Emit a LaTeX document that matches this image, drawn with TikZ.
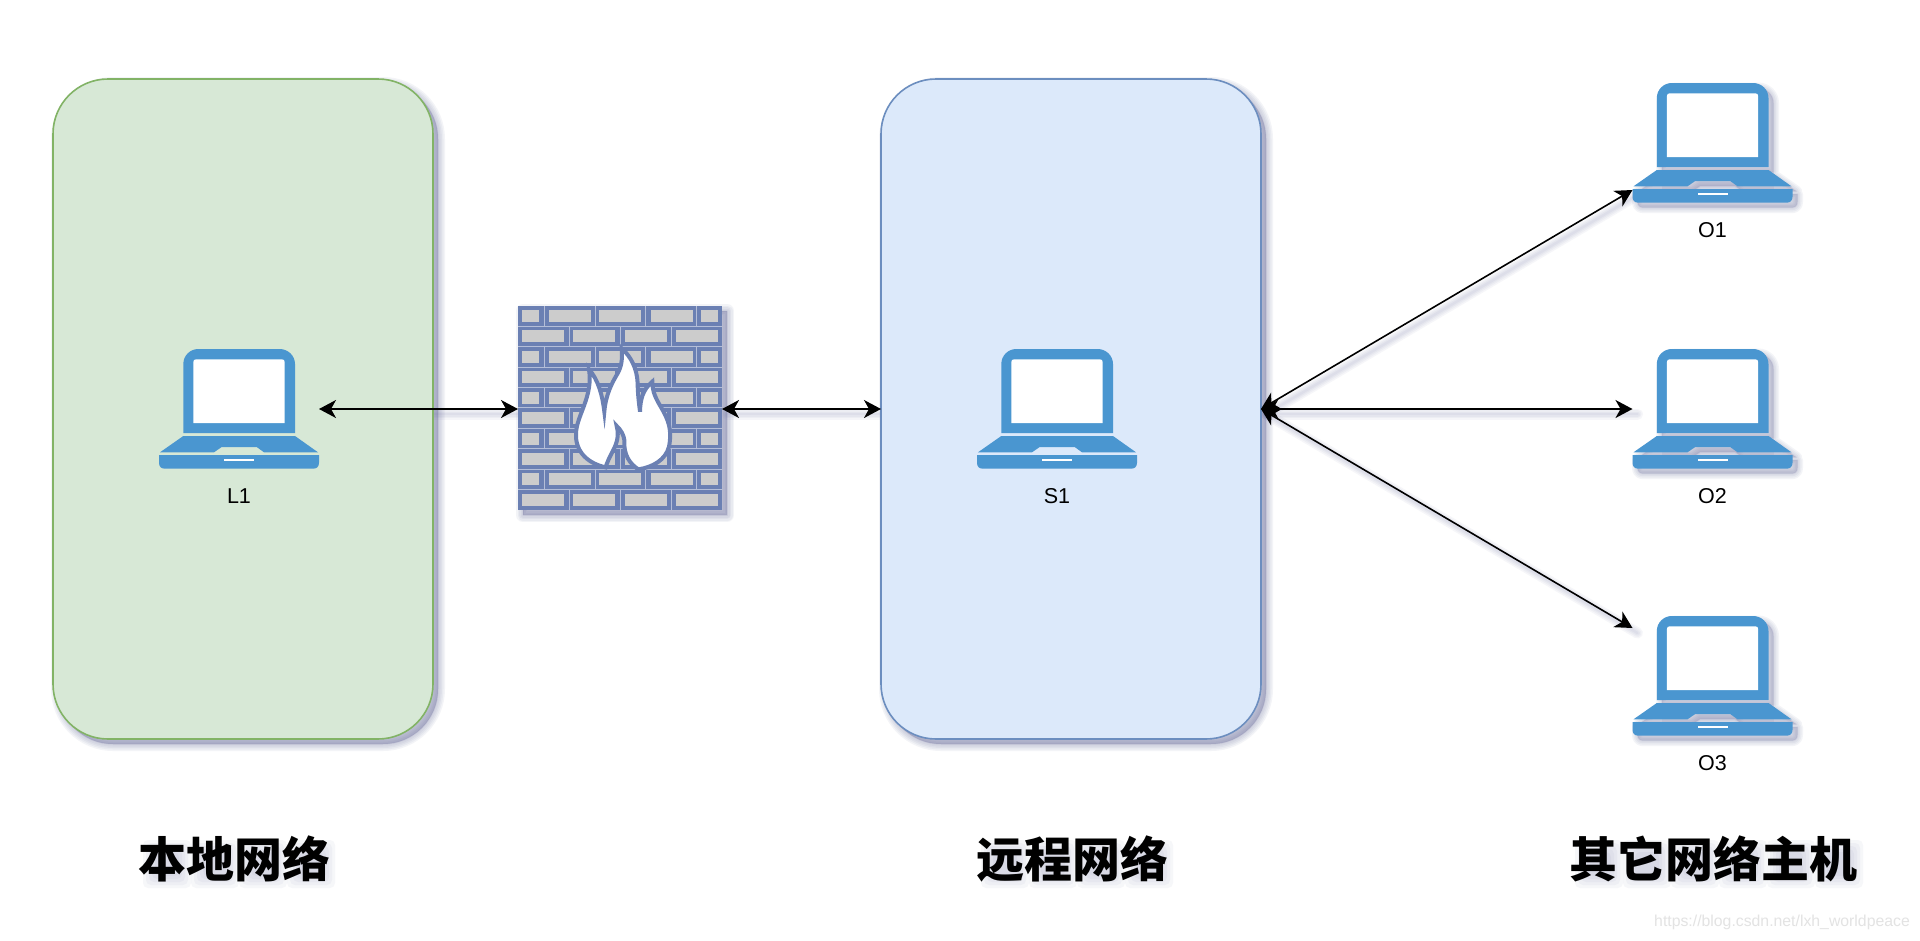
\documentclass[tikz,border=0pt]{standalone}
\usepackage{fontspec}
\setmainfont{Liberation Sans}
\newfontfamily\cjk{Noto Sans CJK SC}
\usetikzlibrary{arrows.meta,calc}
\definecolor{shadecol}{HTML}{6A6E9E}
\definecolor{lapblue}{HTML}{4A96D0}
\definecolor{wallblue}{HTML}{6B80B3}
\definecolor{mortar}{HTML}{B4BED8}
\definecolor{greenfill}{HTML}{D7E8D6}
\definecolor{greenline}{HTML}{82B366}
\definecolor{bluefill}{HTML}{DCE9FA}
\definecolor{blueline}{HTML}{6C8EBF}
\tikzset{
  device/.style={rectangle,minimum width=160pt,minimum height=120pt,inner sep=0pt,outer sep=0pt},
  zone/.style={rectangle,minimum width=380pt,minimum height=660pt,inner sep=0pt,outer sep=0pt},
  zonepath/.style={rounded corners=55pt,line width=1.6pt},
  wallnode/.style={rectangle,minimum width=204pt,minimum height=204pt,inner sep=0pt,outer sep=0pt},
  devlabel/.style={font=\fontsize{21.5pt}{21.5pt}\selectfont,text=black,inner sep=0pt},
  title/.style={font=\cjk\bfseries\fontsize{48pt}{48pt}\selectfont,text=black,inner sep=0pt},
  link/.style={draw=black,line width=1.6pt,{Stealth[length=17pt,width=18pt,inset=5pt]}-{Stealth[length=17pt,width=18pt,inset=5pt]}},
  linkshadow/.style={draw=shadecol,line width=#1,opacity=.06,line cap=round,transform canvas={shift={(5pt,-5pt)}}},
  softsh/.style={fill=shadecol,draw=shadecol,line width=#1,opacity=.075,line join=round},
}
\newcommand\lapoutline{%
  (-55.7,24) -- (-55.7,-45) .. controls (-55.7,-53.3) and (-49,-60) .. (-40.7,-60) -- (40.7,-60) .. controls (49,-60) and (56,-53.3) .. (56,-45) -- (56,24) -- cycle
  (-55.7,27) -- (56,27) -- (79,43.3) -- (25,43.3) -- (17.7,38) -- (-17.3,38) -- (-25,43.3) -- (-79,43.3) -- cycle
  (-80,46) -- (80,46) -- (80,53.7) .. controls (80,57.5) and (78,59.7) .. (74,59.7) -- (-74,59.7) .. controls (-78,59.7) and (-80,57.5) .. (-80,53.7) -- cycle}
\newcommand\lapshadow[2]{%
  \begin{scope}[shift={(#1+5,#2+5)}]
    \foreach \w in {11pt,8pt,5pt,2pt}{\path[softsh=\w] \lapoutline;}
    \fill[shadecol,opacity=.1] (-55.7,24) rectangle (56,46);
  \end{scope}}
\newcommand\laptop[4]{% name, x, y, label
  \begin{scope}[shift={(#2,#3)}]
    \fill[lapblue] \lapoutline;
    \fill[white] (-45.7,14) -- (-45.7,-46.7) .. controls (-45.7,-48.7) and (-44.7,-49.7) .. (-42.7,-49.7) -- (42.7,-49.7) .. controls (44.7,-49.7) and (45.7,-48.7) .. (45.7,-46.7) -- (45.7,14) -- cycle;
    \fill[white] (-14.7,49.7) rectangle (15,52.3);
  \end{scope}
  \node[devlabel] (#1lab) at (#2,#3+87) {#4};
}
\newcommand\softblob[3]{% cx, cy, half-size
  \foreach \d in {0,3,6,9,12}{%
    \fill[shadecol,opacity=.055,rounded corners=5pt] (#1-#3+\d,#2-#3+\d) rectangle (#1+#3-\d,#2+#3-\d);
  }}
\newcommand\connshadow[2]{%
  \foreach \w in {11pt,8pt,5pt,2.5pt}{\draw[linkshadow=\w] (#1) -- (#2);}
}
\begin{document}
\begin{tikzpicture}[x=1pt,y=-1pt]
\useasboundingbox (0,0) rectangle (1920,940);
\fill[white] (0,0) rectangle (1920,940);
% named places
\node[zone] (local) at (243,409) {};
\node[zone] (remote) at (1071,409) {};
\node[device] (L1) at (239,409) {};
\node[device] (S1) at (1057,409) {};
\node[device] (O1) at (1712.5,143) {};
\node[device] (O2) at (1712.5,409) {};
\node[device] (O3) at (1712.5,676) {};
\node[wallnode] (fw) at (620,408) {};
\coordinate (O1in) at ([yshift=-47pt]O1.west);
\coordinate (O3in) at ([yshift=48pt]O3.west);
\coordinate (fwL) at (fw.west |- L1.east);
\coordinate (fwR) at (fw.east |- remote.west);
% connector shadows lie behind everything
\connshadow{L1.east}{fwL}
\connshadow{fwR}{remote.west}
\connshadow{remote.east}{O1in}
\connshadow{remote.east}{O2.west}
\connshadow{remote.east}{O3in}
% zones
\foreach \w in {14pt,11pt,8pt,5pt,2pt,.5pt}{
  \path[softsh=\w,rounded corners=55pt] (local.north west) ++(5,5) rectangle ([xshift=5pt,yshift=-5pt]local.south east);
  \path[softsh=\w,rounded corners=55pt] (remote.north west) ++(5,5) rectangle ([xshift=5pt,yshift=-5pt]remote.south east);
}
\draw[zonepath,fill=greenfill,draw=greenline] (local.north west) rectangle (local.south east);
\draw[zonepath,fill=bluefill,draw=blueline] (remote.north west) rectangle (remote.south east);
% devices
\lapshadow{1712.5}{143}
\lapshadow{1712.5}{409}
\lapshadow{1712.5}{676}
\laptop{L1}{239}{409}{L1}
\laptop{S1}{1057}{409}{S1}
\laptop{O1}{1712.5}{143}{O1}
\laptop{O2}{1712.5}{409}{O2}
\laptop{O3}{1712.5}{676}{O3}
% firewall
\foreach \w in {14pt,11pt,8pt,5pt,2pt,.5pt}{
  \path[softsh=\w] (518+5,306+5) rectangle (722+5,510+5);
}
\fill[wallblue] (fw.north west) rectangle (fw.south east);
\begin{scope}[shift={(500,290)},xscale=1/3,yscale=1/3]
  \foreach \j in {0,...,8}{
    \draw[mortar,line width=.7pt] (54,{108+61.3*\j}) -- (666,{108+61.3*\j});
  }
  \foreach \j in {0,2,4,6,8}{
    \pgfmathsetmacro\ya{48+61.3*\j}\pgfmathsetmacro\yb{\ya+60}
    \foreach \x in {132,285,437,590}{\draw[mortar,line width=.7pt] (\x,\ya) -- (\x,\yb);}
    \pgfmathsetmacro\ytop{60+61.3*\j}\pgfmathsetmacro\ybot{\ytop+36}
    \foreach \xa/\xb in {66/118,146/272,298/424,452/578,603/654}{
      \fill[gray!40] (\xa,\ytop) rectangle (\xb,\ybot);
    }
  }
  \foreach \j in {1,3,5,7,9}{
    \pgfmathsetmacro\ya{48+61.3*\j}\pgfmathsetmacro\yb{\ya+60}
    \foreach \x in {207,361,515}{\draw[mortar,line width=.7pt] (\x,\ya) -- (\x,\yb);}
    \pgfmathsetmacro\ytop{60+61.3*\j}\pgfmathsetmacro\ybot{\ytop+36}
    \foreach \xa/\xb in {66/192,220/346,374/500,528/654}{
      \fill[gray!40] (\xa,\ytop) rectangle (\xb,\ybot);
    }
  }
\end{scope}
\begin{scope}[shift={(565,340)},xscale=1/3,yscale=1/3]
  \draw[wallblue,fill=white,line width=4pt,miter limit=10,line join=miter]
    (72,88) .. controls (100,120) and (112,165) .. (118,215)
    .. controls (122,165) and (140,130) .. (158,100)
    .. controls (172,75) and (172,50) .. (170,25)
    .. controls (198,50) and (216,85) .. (218,130)
    .. controls (218,160) and (222,190) .. (225,215)
    .. controls (226,180) and (232,150) .. (262,125)
    .. controls (262,155) and (272,175) .. (290,205)
    .. controls (310,240) and (322,270) .. (312,320)
    .. controls (302,360) and (262,382) .. (220,388)
    .. controls (195,372) and (175,345) .. (178,300)
    .. controls (176,285) and (168,270) .. (155,258)
    .. controls (165,295) and (150,320) .. (140,340)
    .. controls (132,355) and (126,368) .. (122,382)
    .. controls (75,372) and (30,340) .. (33,280)
    .. controls (35,225) and (85,170) .. (72,88) -- cycle;
\end{scope}
% connectors
\draw[link] (L1.east) -- (fwL);
\draw[link] (fwR) -- (remote.west);
\draw[link] (remote.east) -- (O1in);
\draw[link] (remote.east) -- (O2.west);
\draw[link] (remote.east) -- (O3in);
% titles
\foreach \c in {0,1,2,3}{\softblob{162+48*\c+5}{864}{24}\softblob{1000+48*\c+5}{864}{24}}
\foreach \c in {0,1,2,3,4,5}{\softblob{1594+48*\c+5}{864}{24}}
\node[title] (t1) at (234.5,859) {本地网络};
\node[title] (t2) at (1072,859) {远程网络};
\node[title] (t3) at (1713,859) {其它网络主机};
\node[font=\fontsize{15.8pt}{15.8pt}\selectfont,text=black!11,inner sep=0pt,anchor=east] (wm) at (1910,922) {https://blog.csdn.net/lxh\_worldpeace};
\end{tikzpicture}
\end{document}
